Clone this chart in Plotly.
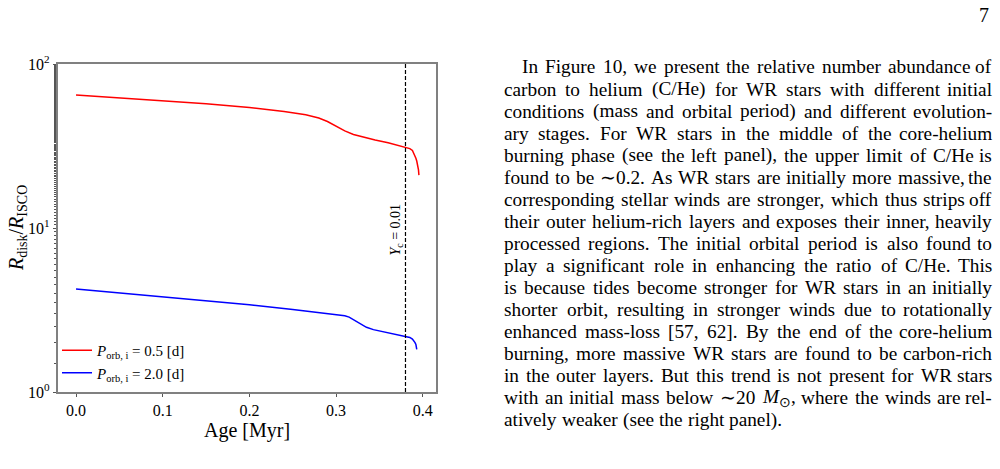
import re
import plotly.graph_objects as go

# ---------------- data ----------------
age_p05 = [0.000, 0.050, 0.100, 0.150, 0.200, 0.240, 0.265, 0.280, 0.290, 0.300,
           0.310, 0.320, 0.330, 0.345, 0.360, 0.375, 0.380, 0.385, 0.388, 0.390,
           0.391, 0.392, 0.393, 0.394, 0.395, 0.3955]
rdisk_p05 = [64.7, 62.1, 59.6, 57.2, 54.2, 51.4, 49.1, 46.8, 44.6, 41.9,
             39.1, 37.2, 35.9, 34.4, 33.1, 31.7, 31.2, 30.5, 29.7, 28.4,
             27.4, 26.6, 25.6, 24.2, 22.6, 21.0]

age_p20 = [0.000, 0.050, 0.100, 0.166, 0.200, 0.250, 0.300, 0.310, 0.315, 0.320,
           0.328, 0.335, 0.343, 0.351, 0.365, 0.380, 0.385, 0.388, 0.390, 0.391,
           0.392, 0.3925, 0.393]
rdisk_p20 = [4.25, 4.03, 3.83, 3.57, 3.41, 3.18, 2.97, 2.92, 2.86, 2.76,
             2.60, 2.48, 2.40, 2.35, 2.27, 2.19, 2.15, 2.10, 2.05, 2.00,
             1.95, 1.88, 1.82]

yc_age = 0.38
series_names = ["<i>P</i><sub>orb, i</sub> = 0.5 [d]", "<i>P</i><sub>orb, i</sub> = 2.0 [d]"]
xtick_vals = [0.0, 0.1, 0.2, 0.3, 0.4]
xtick_text = ["0.0", "0.1", "0.2", "0.3", "0.4"]
ytick_vals = [1, 10, 100]
ytick_text = ["10<sup>0</sup>", "10<sup>1</sup>", "10<sup>2</sup>"]

paragraph_lines = [
    "In Figure 10, we present the relative number abundance of",
    "carbon to helium (C/He) for WR stars with different initial",
    "conditions (mass and orbital period) and different evolution-",
    "ary stages. For WR stars in the middle of the core-helium",
    "burning phase (see the left panel), the upper limit of C/He is",
    "found to be ∼ 0.2. As WR stars are initially more massive, the",
    "corresponding stellar winds are stronger, which thus strips off",
    "their outer helium-rich layers and exposes their inner, heavily",
    "processed regions. The initial orbital period is also found to",
    "play a significant role in enhancing the ratio of C/He. This",
    "is because tides become stronger for WR stars in an initially",
    "shorter orbit, resulting in stronger winds due to rotationally",
    "enhanced mass-loss [57, 62]. By the end of the core-helium",
    "burning, more massive WR stars are found to be carbon-rich",
    "in the outer layers. But this trend is not present for WR stars",
    "with an initial mass below ∼ 20 <i>M</i><sub>⊙</sub>, where the winds are rel-",
    "atively weaker (see the right panel).",
]
page_number = "7"

# ---------------- layout helpers ----------------
W, H = 1000, 469
SERIF = "Liberation Serif, Times New Roman, serif"

def px(xp):
    return xp / W

def py(yp):
    return 1 - yp / H

TIMES_W = {' ': 250, '!': 333, '(': 333, ')': 333, ',': 250, '-': 333, '.': 250, '/': 278,
           ':': 278, ';': 278, '[': 333, ']': 333, '∼': 541, '⊙': 778, '=': 564}
for d in "0123456789":
    TIMES_W[d] = 500
TIMES_W.update(dict(zip("ABCDEFGHIJKLMNOPQRSTUVWXYZ",
    [722, 667, 667, 722, 611, 556, 722, 722, 333, 389, 722, 611, 889, 722, 722, 556, 722,
     667, 556, 611, 722, 722, 944, 722, 722, 611])))
TIMES_W.update(dict(zip("abcdefghijklmnopqrstuvwxyz",
    [444, 500, 444, 500, 444, 333, 500, 500, 278, 278, 500, 278, 778, 500, 500, 500, 500,
     333, 389, 278, 500, 500, 722, 500, 500, 444])))

def text_width(s, size):
    total = 0.0
    scale = 1.0
    for tok in re.split(r'(<[^>]+>)', s):
        if tok.startswith('<'):
            if tok == '<sub>':
                scale = 0.7
            elif tok == '</sub>':
                scale = 1.0
            continue
        for ch in tok:
            total += TIMES_W.get(ch, 500) * scale
    return total / 1000 * size

# ---------------- figure ----------------
fig = go.Figure()
fig.add_trace(go.Scatter(x=age_p05, y=rdisk_p05, mode="lines", name=series_names[0],
                         line=dict(color="#ff0000", width=1.5)))
fig.add_trace(go.Scatter(x=age_p20, y=rdisk_p20, mode="lines", name=series_names[1],
                         line=dict(color="#0000ff", width=1.5)))

fig.add_shape(type="line", x0=yc_age, x1=yc_age, xref="x", y0=0, y1=1, yref="y domain",
              line=dict(color="black", width=1.2, dash="4px,2px"))

axis_common = dict(showline=True, linecolor="#808080", linewidth=1.5, mirror=True,
                   ticks="outside", ticklen=3.5, tickwidth=1, tickcolor="#555555",
                   showgrid=False, zeroline=False,
                   tickfont=dict(family=SERIF, size=16, color="black"))

fig.update_layout(
    width=W, height=H,
    margin=dict(l=0, r=0, t=0, b=0, autoexpand=False),
    paper_bgcolor="white", plot_bgcolor="white",
    showlegend=True,
    legend=dict(x=px(57), y=py(334), xanchor="left", yanchor="top",
                bgcolor="rgba(0,0,0,0)", font=dict(family=SERIF, size=15, color="black"),
                itemwidth=30, tracegroupgap=0),
    xaxis=dict(domain=[px(58), px(436)], range=[-0.0208, 0.4152],
               tickvals=xtick_vals, ticktext=xtick_text, **axis_common),
    yaxis=dict(domain=[py(392), py(64)], type="log", range=[0, 2],
               tickvals=ytick_vals, ticktext=ytick_text,
               minor=dict(ticks="outside", ticklen=2.5, tickwidth=1, tickcolor="#555555",
                          showgrid=False),
               **axis_common),
)

# axis titles
fig.add_annotation(text="Age [Myr]", x=px(247), y=py(430), xref="paper", yref="paper",
                   xanchor="center", yanchor="middle",
                   showarrow=False, font=dict(family=SERIF, size=20, color="black"))
fig.add_annotation(text="<i>R</i><sub>disk</sub>/<i>R</i><sub>ISCO</sub>", x=px(17), y=py(228),
                   xref="paper", yref="paper", xanchor="center", yanchor="middle",
                   textangle=-90, showarrow=False,
                   font=dict(family=SERIF, size=20, color="black"))
fig.add_annotation(text="<i>Y</i><sub>c</sub> = 0.01", x=yc_age, xref="x", xshift=-9,
                   y=py(229), yref="paper", xanchor="center", yanchor="middle",
                   textangle=-90, showarrow=False,
                   font=dict(family=SERIF, size=14, color="black"))

# page number
fig.add_annotation(text=page_number, x=px(991), y=py(15), xref="paper", yref="paper",
                   xanchor="right", yanchor="middle", showarrow=False,
                   font=dict(family=SERIF, size=20, color="black"))

# justified paragraph
FS = 19.3
LEFT, RIGHT, INDENT = 503, 993, 521
TOP, LEAD = 67, 22.06
for i, line in enumerate(paragraph_lines):
    words = line.split()
    ypos = py(TOP + i * LEAD)
    left = INDENT if i == 0 else LEFT
    widths = [text_width(w, FS) for w in words]
    last = (i == len(paragraph_lines) - 1)
    if last or len(words) == 1:
        gap = 0.27 * FS
    else:
        gap = (RIGHT - left - sum(widths)) / (len(words) - 1)
    xcur = left
    for j, (w, wd) in enumerate(zip(words, widths)):
        if (not last) and j == len(words) - 1:
            fig.add_annotation(text=w, x=px(RIGHT), y=ypos, xref="paper", yref="paper",
                               xanchor="right", yanchor="middle", showarrow=False, borderpad=0,
                               font=dict(family=SERIF, size=FS, color="black"))
        else:
            fig.add_annotation(text=w, x=px(xcur), y=ypos, xref="paper", yref="paper",
                               xanchor="left", yanchor="middle", showarrow=False, borderpad=0,
                               font=dict(family=SERIF, size=FS, color="black"))
        xcur += wd + gap

fig.write_html("out.html")
